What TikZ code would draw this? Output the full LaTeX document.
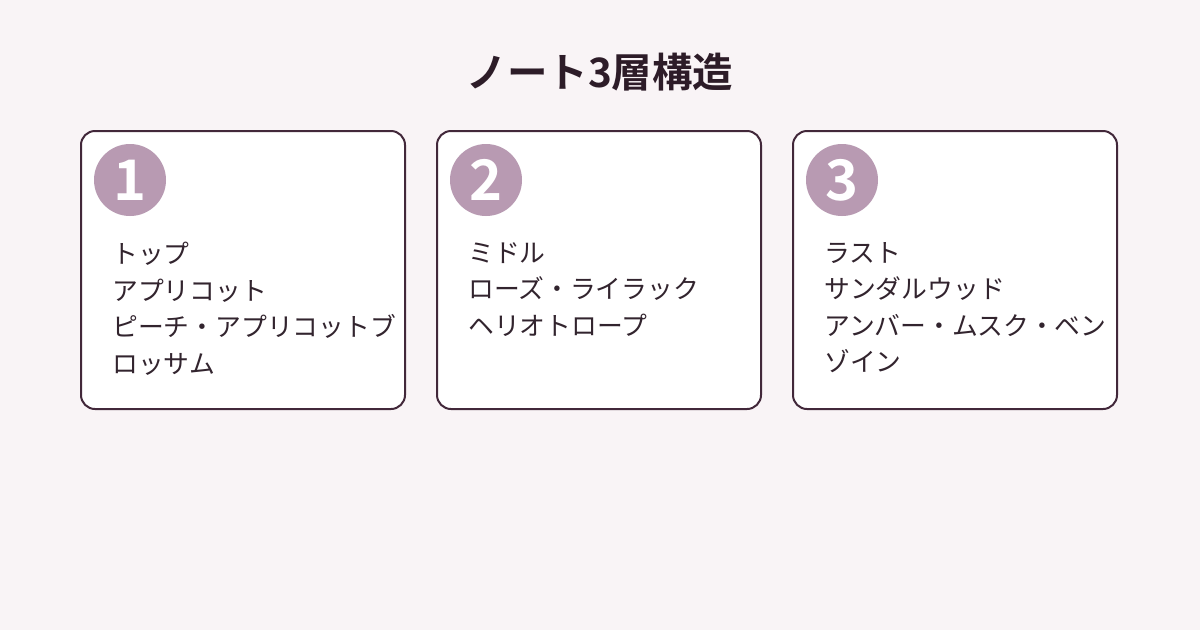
\documentclass[tikz,border=0pt]{standalone}
\usepackage{fontspec}
\setmainfont{Noto Sans CJK JP}
\newfontfamily\jpbold{Noto Sans CJK JP Bold}

\begin{document}
\begin{tikzpicture}[x=1pt,y=-1pt]

    % Farben
    \definecolor{bggray}{RGB}{249,244,246}
    \definecolor{framedark}{RGB}{66,40,58}
    \definecolor{badgefill}{RGB}{184,154,178}
    \definecolor{titletext}{RGB}{45,28,40}
    \definecolor{bodytext}{RGB}{50,36,46}

    % Maße
    \def\W{1200}
    \def\H{630}
    \def\BW{324}
    \def\BH{278}

    % Hintergrund
    \fill[bggray] (0,0) rectangle (\W,\H);
    \useasboundingbox (0,0) rectangle (\W,\H);

    % Titel
    \node[font=\jpbold\fontsize{40.5}{44}\selectfont, text=titletext] (title) at (\W/2,72)
        {ノート3層構造};

    % Karten-Makro: Rahmen, Nummer, Textzeilen
    \newcommand{\notecard}[4]{%
        \draw[fill=white, draw=framedark, line width=2pt, rounded corners=14pt]
            (#1,131) rectangle ++(\BW,\BH);
        \node[circle, fill=badgefill, minimum size=72pt, inner sep=0pt,
            text=white, font=\jpbold\fontsize{56}{56}\selectfont] (badge#2) at (#1+49,180) {#2};
        \node[anchor=north west, inner sep=0pt, text=bodytext, align=left,
            font=\fontsize{25.8}{36.5}\selectfont] (notes#2) at (#1+31,242) {#4};
    }

    % Kopfnote
    \notecard{81}{1}{top}{トップ\\アプリコット\\ピーチ・アプリコットブ\\ロッサム}

    % Herznote
    \notecard{437}{2}{middle}{ミドル\\ローズ・ライラック\\ヘリオトロープ}

    % Basisnote
    \notecard{793}{3}{base}{ラスト\\サンダルウッド\\アンバー・ムスク・ベン\\ゾイン}

\end{tikzpicture}
\end{document}
